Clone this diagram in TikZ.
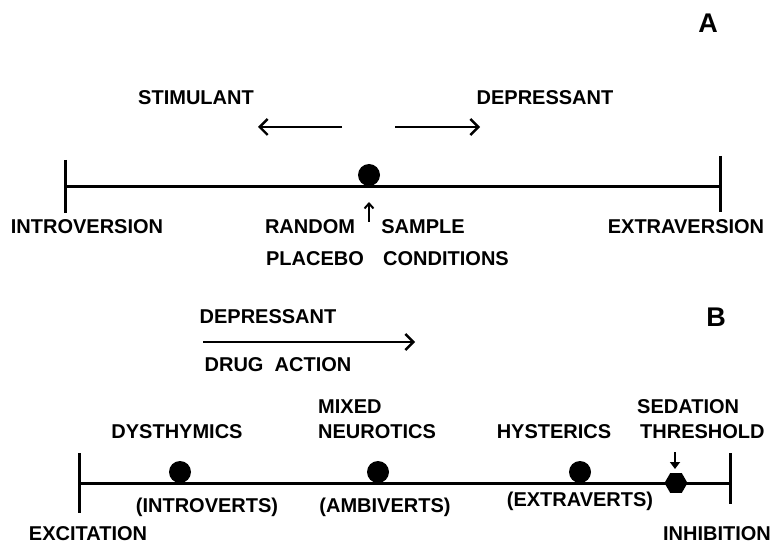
\documentclass[tikz,border=0pt]{standalone}
\usepackage{fontspec}
\setmainfont{Liberation Sans}
\usetikzlibrary{arrows.meta,shapes.geometric}
\begin{document}
\begin{tikzpicture}[x=1pt,y=-1pt,
  lbl/.style={font=\fontsize{20}{22}\selectfont\bfseries, inner sep=0pt},
  big/.style={font=\fontsize{27}{29}\selectfont\bfseries, inner sep=0pt},
  axis/.style={line width=3pt},
  tick/.style={line width=3pt},
  arr/.style={line width=2.4pt,-{Straight Barb[length=8pt,width=16pt,line width=2.4pt]}},
  sarr/.style={line width=2pt,-{Straight Barb[length=5pt,width=9pt,line width=2pt]}},
  darr/.style={line width=2.6pt,-{Triangle[length=7pt,width=10pt]}},
  dot/.style={circle,fill=black,inner sep=0pt,minimum size=22pt},
  hexdot/.style={regular polygon,regular polygon sides=6,fill=black,inner sep=0pt,minimum size=23pt}
]
\useasboundingbox (0,0) rectangle (777,545);

% ---------- Panel A ----------
\node[big] (A) at (708,23) {A};
\node[lbl] (stim) at (196,98) {STIMULANT};
\node[lbl] (depA) at (545,98) {DEPRESSANT};
\coordinate (sl1) at (342,127);
\coordinate (sl2) at (258,127);
\coordinate (dr1) at (395,127);
\coordinate (dr2) at (480,127);
\draw[arr] (sl1) -- (sl2);
\draw[arr] (dr1) -- (dr2);

\coordinate (aL) at (65,187);
\coordinate (aR) at (720,187);
\coordinate (aLt) at (65,160);
\coordinate (aLb) at (65,213);
\coordinate (aRt) at (720,156);
\coordinate (aRb) at (720,212);
\draw[axis] (aL) -- (aR);
\draw[tick] (aLt) -- (aLb);
\draw[tick] (aRt) -- (aRb);
\node[dot] (pdot) at (369,175) {};
\coordinate (up1) at (369,222);
\coordinate (up2) at (369,202);
\draw[sarr] (up1) -- (up2);

\node[lbl] (intro) at (87,227) {INTROVERSION};
\node[lbl] (extra) at (686,227) {EXTRAVERSION};
\node[lbl] (random) at (310,227) {RANDOM};
\node[lbl] (sample) at (423,227) {SAMPLE};
\node[lbl] (placebo) at (315,259) {PLACEBO};
\node[lbl] (cond) at (446,259) {CONDITIONS};

% ---------- Panel B ----------
\node[big] (B) at (716,317) {B};
\node[lbl] (depB) at (268,317) {DEPRESSANT};
\coordinate (da1) at (203,342);
\coordinate (da2) at (415,342);
\draw[arr] (da1) -- (da2);
\node[lbl] (drug) at (278,365) {DRUG\ \ ACTION};

\coordinate (bL) at (79,483);
\coordinate (bR) at (730,483);
\coordinate (bLt) at (79,453);
\coordinate (bLb) at (79,513);
\coordinate (bRt) at (730,453);
\coordinate (bRb) at (730,504);
\draw[axis] (bL) -- (bR);
\draw[tick] (bLt) -- (bLb);
\draw[tick] (bRt) -- (bRb);

\node[dot] (d1) at (180,472) {};
\node[dot] (d2) at (378,472) {};
\node[dot] (d3) at (580,472) {};
\node[hexdot] (sed) at (676,483) {};
\coordinate (dn1) at (675,452);
\coordinate (dn2) at (675,469);
\draw[darr] (dn1) -- (dn2);

\node[lbl] (dys) at (177,432) {DYSTHYMICS};
\node[lbl,anchor=west] (mixed) at (318,407) {MIXED};
\node[lbl,anchor=west] (neur) at (318,432) {NEUROTICS};
\node[lbl] (hyst) at (554,432) {HYSTERICS};
\node[lbl,anchor=west] (sedation) at (637,407) {SEDATION};
\node[lbl,anchor=west] (thresh) at (640,432) {THRESHOLD};
\node[lbl] (introv) at (207,507) {(INTROVERTS)};
\node[lbl] (ambiv) at (385,507) {(AMBIVERTS)};
\node[lbl] (extrav) at (580,501) {(EXTRAVERTS)};
\node[lbl] (excit) at (88,534) {EXCITATION};
\node[lbl] (inhib) at (717,534) {INHIBITION};
\end{tikzpicture}
\end{document}
